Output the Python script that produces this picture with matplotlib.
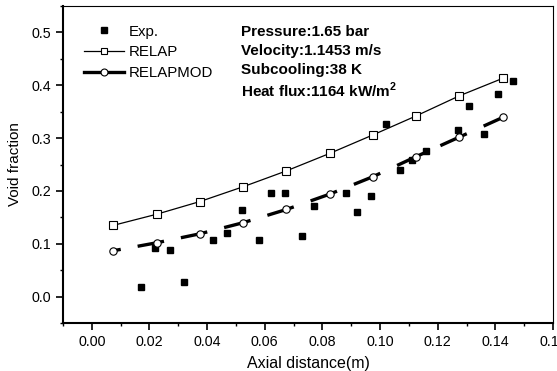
import matplotlib
matplotlib.use('Agg')
import matplotlib.pyplot as plt
import numpy as np
from matplotlib.lines import Line2D
from matplotlib.ticker import MultipleLocator, FormatStrFormatter

plt.rcParams['font.family'] = ['Liberation Sans', 'DejaVu Sans']
plt.rcParams['mathtext.fontset'] = 'custom'
plt.rcParams['mathtext.rm'] = 'Liberation Sans'
plt.rcParams['mathtext.bf'] = 'Liberation Sans:bold'

# Experimental data
exp_x = [0.017, 0.022, 0.027, 0.032, 0.042, 0.047, 0.052, 0.058, 0.062, 0.067,
         0.073, 0.077, 0.088, 0.092, 0.097, 0.102, 0.107, 0.111, 0.116, 0.127,
         0.131, 0.136, 0.141, 0.146]
exp_y = [0.019, 0.092, 0.089, 0.028, 0.108, 0.120, 0.164, 0.108, 0.197, 0.197,
         0.114, 0.172, 0.197, 0.160, 0.191, 0.327, 0.239, 0.258, 0.275, 0.316,
         0.361, 0.308, 0.383, 0.408]

# Code predictions
calc_x = [0.0075, 0.0225, 0.0375, 0.0525, 0.0675, 0.0825, 0.0975, 0.1125, 0.1275, 0.1425]
relap_y = [0.135, 0.156, 0.180, 0.208, 0.238, 0.271, 0.306, 0.342, 0.380, 0.413]
relapmod_y = [0.087, 0.102, 0.119, 0.140, 0.165, 0.194, 0.227, 0.265, 0.302, 0.339]

conditions = ['Pressure:1.65 bar', 'Velocity:1.1453 m/s', 'Subcooling:38 K',
              r'Heat flux:1164 kW/m$^{\mathbf{2}}$']

fig = plt.figure(figsize=(5.57, 3.71), dpi=100)
ax = fig.add_axes([0.113, 0.129, 0.880, 0.855])

ax.plot(exp_x, exp_y, linestyle='none', marker='s', markersize=4.6,
        color='black', zorder=3)
ax.plot(calc_x, relap_y, color='black', linewidth=0.9, marker='s',
        markersize=5.3, markerfacecolor='white', markeredgewidth=0.8, zorder=2)

# RELAPMOD: Origin-style dash, one long dash ending at each point plus a stub after it
cx = np.array(calc_x)
cy = np.array(relapmod_y)
for i in range(len(cx) - 1):
    dx = cx[i + 1] - cx[i]
    dy = cy[i + 1] - cy[i]
    for a, b in [(0.0, 0.17), (0.56, 1.0)]:
        ax.plot([cx[i] + a * dx, cx[i] + b * dx], [cy[i] + a * dy, cy[i] + b * dy],
                color='black', linewidth=2.4, solid_capstyle='butt', zorder=2)
ax.plot(calc_x, relapmod_y, linestyle='none', marker='o', markersize=5.3,
        markerfacecolor='white', markeredgecolor='black', markeredgewidth=0.8,
        zorder=3)

# Legend with solid handles
handles = [
    Line2D([], [], linestyle='none', marker='s', markersize=4.6, color='black'),
    Line2D([], [], color='black', linewidth=0.9, marker='s', markersize=5,
           markerfacecolor='white', markeredgewidth=0.8),
    Line2D([], [], color='black', linewidth=2.4, marker='o', markersize=5,
           markerfacecolor='white', markeredgewidth=0.8),
]
leg = ax.legend(handles, ['Exp.', 'RELAP', 'RELAPMOD'], loc='upper left',
                bbox_to_anchor=(0.03, 0.96), frameon=False, fontsize=10.8,
                handlelength=2.7, handletextpad=0.3, labelspacing=0.45,
                borderaxespad=0)

ys = [0.918, 0.858, 0.798, 0.735]
for txt, yy in zip(conditions, ys):
    ax.text(0.363, yy, txt, transform=ax.transAxes, fontsize=11,
            fontweight='bold', va='center', ha='left')

ax.set_xlim(-0.01, 0.16)
ax.set_ylim(-0.05, 0.55)
ax.xaxis.set_major_locator(MultipleLocator(0.02))
ax.xaxis.set_minor_locator(MultipleLocator(0.01))
ax.yaxis.set_major_locator(MultipleLocator(0.1))
ax.yaxis.set_minor_locator(MultipleLocator(0.05))
ax.xaxis.set_major_formatter(FormatStrFormatter('%.2f'))
ax.yaxis.set_major_formatter(FormatStrFormatter('%.1f'))

ax.tick_params(which='major', direction='out', length=5, width=1.2,
               labelsize=10.3, top=False, right=False)
ax.tick_params(which='minor', direction='out', length=2.5, width=1.0,
               top=False, right=False)

ax.set_xlabel('Axial distance(m)', fontsize=11.5, labelpad=5)
ax.set_ylabel('Void fraction', fontsize=11, labelpad=7)

ax.spines['left'].set_linewidth(1.5)
ax.spines['bottom'].set_linewidth(1.5)
ax.spines['top'].set_linewidth(0.8)
ax.spines['right'].set_linewidth(0.8)

fig.savefig('out.png', dpi=100)
plt.close(fig)
